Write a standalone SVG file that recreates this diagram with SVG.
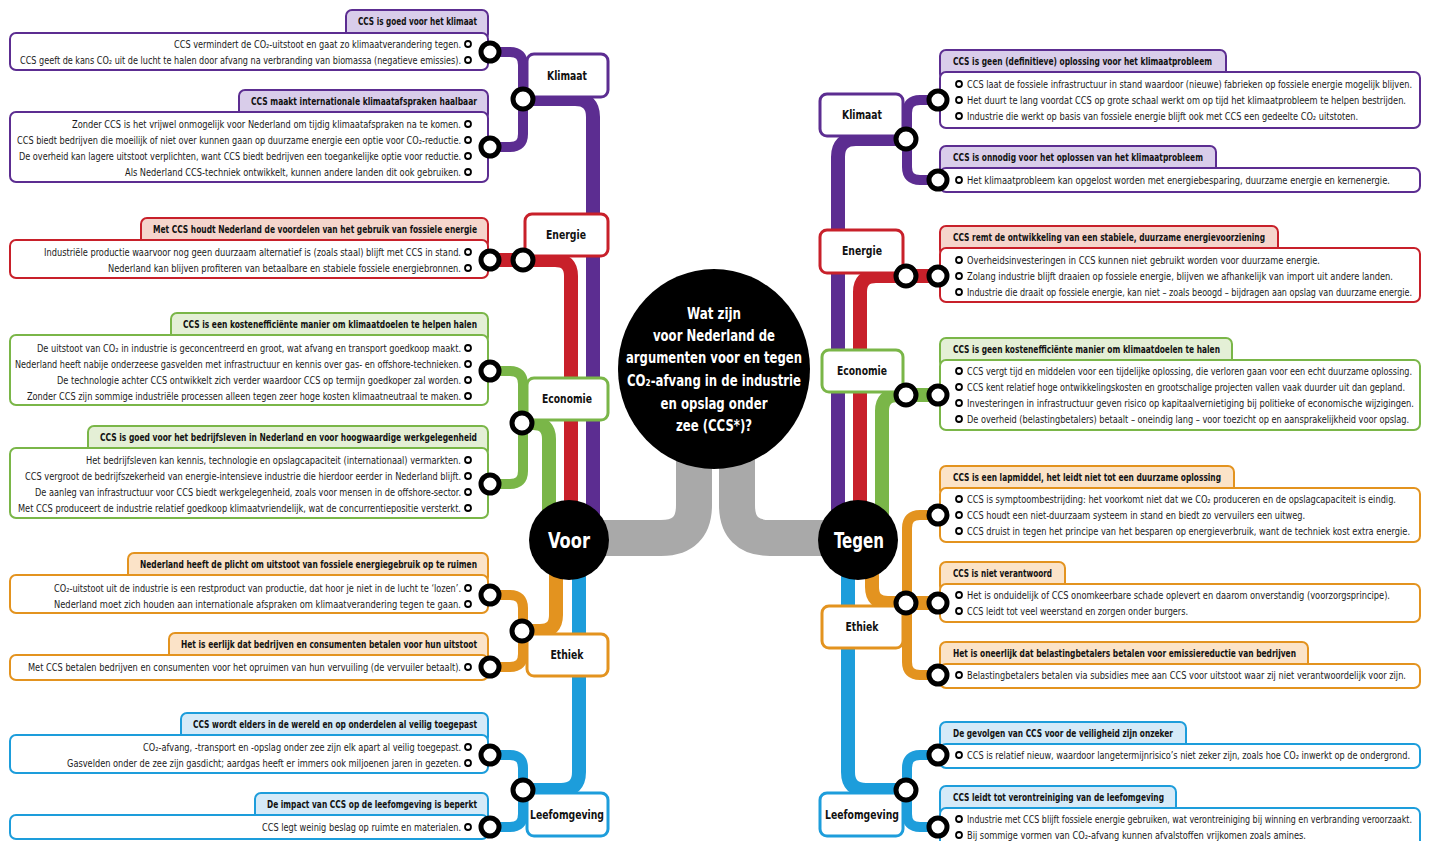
<svg xmlns="http://www.w3.org/2000/svg" width="1429" height="841" viewBox="0 0 1429 841">
<style>
.t{font-family:"Liberation Sans Narrow","DejaVu Sans Condensed","Liberation Sans",sans-serif;font-size:10px;fill:#1a1a1a}
.h{font-weight:bold;fill:#111}
.e{text-anchor:end}
.n{font-family:"Liberation Sans Narrow","DejaVu Sans Condensed","Liberation Sans",sans-serif;font-weight:bold;font-size:13px;fill:#111;text-anchor:middle}
.big{font-family:"Liberation Sans Narrow","DejaVu Sans Condensed","Liberation Sans",sans-serif;font-weight:bold;fill:#fff;text-anchor:middle}
.J{fill:#fff;stroke:#000;stroke-width:5}
.o{fill:#fff;stroke:#000;stroke-width:1.8}
.tr{fill:none;stroke-width:14;stroke-linecap:butt}
.br{fill:none;stroke-width:10}
.sm{fill:none;stroke-width:3}
.body{fill:#fff;stroke-width:2}
.tab{stroke-width:2}
.node{fill:#fff;stroke-width:3}
.pu{stroke:#5c2d91}.puf{fill:#d9cdea}
.re{stroke:#c8202a}.ref{fill:#f5d5cc}
.gr{stroke:#7ab648}.grf{fill:#e4efd6}
.or{stroke:#e3931f}.orf{fill:#fbe3c8}
.bl{stroke:#1d9ddb}.blf{fill:#d5eaf8}
</style>

<g id="connectors">
  <path d="M694 440 L694 505 Q694 538 661 538 L600 538" fill="none" stroke="#a9a9a9" stroke-width="36"/>
  <path d="M737 440 L737 505 Q737 538 770 538 L830 538" fill="none" stroke="#a9a9a9" stroke-width="36"/>
  <path class="tr pu" d="M523 99 L575 99 Q593 99 593 117 L593 520"/>
  <path class="tr re" d="M490 260 L555 260 Q571 260 571 276 L571 520"/>
  <path class="tr gr" d="M522 423 L533 423 Q549 423 549 439 L549 520"/>
  <path class="tr or" d="M556 560 L556 615 Q556 631 540 631 L522 631"/>
  <path class="tr bl" d="M579 560 L579 772 Q579 790 561 790 L523 790"/>
  <path class="tr pu" d="M906 139 L856 139 Q838 139 838 157 L838 520"/>
  <path class="tr re" d="M938 276 L876 276 Q860 276 860 292 L860 520"/>
  <path class="tr gr" d="M938 395 L898 395 Q882 395 882 411 L882 520"/>
  <path class="tr or" d="M872 560 L872 587 Q872 603 888 603 L938 603"/>
  <path class="tr bl" d="M848 560 L848 772 Q848 790 866 790 L906 790"/>
  <path class="br pu" d="M490 52 L510 52 Q523 52 523 65 L523 134 Q523 147 510 147 L490 147"/>
  <path class="br gr" d="M490 371 L510 371 Q523 371 523 384 L523 471 Q523 484 510 484 L490 484"/>
  <path class="br or" d="M490 595 L510 595 Q523 595 523 608 L523 654 Q523 667 510 667 L490 667"/>
  <path class="br bl" d="M490 755 L510 755 Q523 755 523 768 L523 814 Q523 827 510 827 L490 827"/>
  <path class="br pu" d="M938 100 L920 100 Q907 100 907 113 L907 167 Q907 180 920 180 L938 180"/>
  <path class="br or" d="M938 515 L920 515 Q907 515 907 528 L907 662 Q907 675 920 675 L938 675"/>
  <path class="br bl" d="M938 755 L920 755 Q907 755 907 768 L907 814 Q907 827 920 827 L938 827"/>
  <path class="sm pu" d="M471 44 H481 V60 H471 M481 52 H490"/>
  <path class="sm pu" d="M471 124 H481 V172 H471 M471 140 H481 M471 156 H481 M481 147 H490"/>
  <path class="sm re" d="M471 252 H481 V268 H471 M481 260 H490"/>
  <path class="sm gr" d="M471 348 H481 V396 H471 M471 364 H481 M471 380 H481 M481 371 H490"/>
  <path class="sm gr" d="M471 460 H481 V508 H471 M471 476 H481 M471 492 H481 M481 484 H490"/>
  <path class="sm or" d="M471 588 H481 V604 H471 M481 595 H490"/>
  <path class="sm or" d="M471 667 H490"/>
  <path class="sm bl" d="M471 747 H481 V763 H471 M481 755 H490"/>
  <path class="sm bl" d="M471 827 H490"/>
  <path class="sm pu" d="M956 84 H947 V116 H956 M956 100 H938"/>
  <path class="sm pu" d="M956 180 H938"/>
  <path class="sm re" d="M956 260 H947 V292 H956 M956 276 H938"/>
  <path class="sm gr" d="M956 371 H947 V419 H956 M956 387 H947 M956 403 H947 M947 395 H938"/>
  <path class="sm or" d="M956 499 H947 V531 H956 M956 515 H938"/>
  <path class="sm or" d="M956 595 H947 V611 H956 M947 603 H938"/>
  <path class="sm or" d="M956 675 H938"/>
  <path class="sm bl" d="M956 755 H938"/>
  <path class="sm bl" d="M956 819 H947 V835 H956 M947 827 H938"/>
</g>

<g id="center">
  <ellipse cx="714" cy="369" rx="96" ry="100" fill="#000"/>
  <text class="big" font-size="16" x="714" y="319" textLength="54" lengthAdjust="spacingAndGlyphs">Wat zijn</text>
  <text class="big" font-size="16" x="714" y="341" textLength="122" lengthAdjust="spacingAndGlyphs">voor Nederland de</text>
  <text class="big" font-size="16" x="714" y="363" textLength="176" lengthAdjust="spacingAndGlyphs">argumenten voor en tegen</text>
  <text class="big" font-size="16" x="714" y="386" textLength="174" lengthAdjust="spacingAndGlyphs">CO₂-afvang in de industrie</text>
  <text class="big" font-size="16" x="714" y="409" textLength="107" lengthAdjust="spacingAndGlyphs">en opslag onder</text>
  <text class="big" font-size="16" x="714" y="431" textLength="76" lengthAdjust="spacingAndGlyphs">zee (CCS*)?</text>
</g>
<g id="voor">
  <circle cx="569" cy="540" r="40" fill="#000"/>
  <text class="big" font-size="22" x="569" y="548" textLength="42" lengthAdjust="spacingAndGlyphs">Voor</text>
</g>
<g id="tegen">
  <circle cx="858" cy="540" r="40" fill="#000"/>
  <text class="big" font-size="22" x="859" y="548" textLength="50" lengthAdjust="spacingAndGlyphs">Tegen</text>
</g>

<g id="l-klimaat"><rect class="node pu" x="527" y="54" width="81" height="43" rx="7"/><text class="n" x="567" y="80" textLength="40" lengthAdjust="spacingAndGlyphs">Klimaat</text></g>
<g id="l-energie"><rect class="node re" x="525" y="214" width="83" height="42" rx="7"/><text class="n" x="566" y="239" textLength="40" lengthAdjust="spacingAndGlyphs">Energie</text></g>
<g id="l-economie"><rect class="node gr" x="527" y="378" width="81" height="42" rx="7"/><text class="n" x="567" y="403" textLength="50" lengthAdjust="spacingAndGlyphs">Economie</text></g>
<g id="l-ethiek"><rect class="node or" x="527" y="634" width="81" height="42" rx="7"/><text class="n" x="567" y="659" textLength="33" lengthAdjust="spacingAndGlyphs">Ethiek</text></g>
<g id="l-leefomgeving"><rect class="node bl" x="527" y="793" width="81" height="43" rx="7"/><text class="n" x="567" y="819" textLength="74" lengthAdjust="spacingAndGlyphs">Leefomgeving</text></g>

<g id="r-klimaat"><rect class="node pu" x="820" y="94" width="83" height="42" rx="7"/><text class="n" x="862" y="119" textLength="40" lengthAdjust="spacingAndGlyphs">Klimaat</text></g>
<g id="r-energie"><rect class="node re" x="820" y="230" width="83" height="43" rx="7"/><text class="n" x="862" y="255" textLength="40" lengthAdjust="spacingAndGlyphs">Energie</text></g>
<g id="r-economie"><rect class="node gr" x="822" y="350" width="81" height="42" rx="7"/><text class="n" x="862" y="375" textLength="50" lengthAdjust="spacingAndGlyphs">Economie</text></g>
<g id="r-ethiek"><rect class="node or" x="822" y="606" width="81" height="42" rx="7"/><text class="n" x="862" y="631" textLength="33" lengthAdjust="spacingAndGlyphs">Ethiek</text></g>
<g id="r-leefomgeving"><rect class="node bl" x="820" y="793" width="83" height="43" rx="7"/><text class="n" x="862" y="819" textLength="74" lengthAdjust="spacingAndGlyphs">Leefomgeving</text></g>

<g id="l-box1">
  <rect class="tab pu puf" x="346" y="10" width="142" height="30" rx="6"/>
  <rect class="body pu" x="10" y="33" width="478" height="37" rx="6"/>
  <text class="t h e" x="477" y="25" textLength="119" lengthAdjust="spacingAndGlyphs">CCS is goed voor het klimaat</text>
  <text class="t e" x="461" y="48" textLength="287" lengthAdjust="spacingAndGlyphs">CCS vermindert de CO₂-uitstoot en gaat zo klimaatverandering tegen.</text>
  <text class="t e" x="461" y="64" textLength="441" lengthAdjust="spacingAndGlyphs">CCS geeft de kans CO₂ uit de lucht te halen door afvang na verbranding van biomassa (negatieve emissies).</text>
  <circle class="o" cx="468" cy="44" r="3"/><circle class="o" cx="468" cy="60" r="3"/>
</g>
<g id="l-box2">
  <rect class="tab pu puf" x="239" y="90" width="249" height="30" rx="6"/>
  <rect class="body pu" x="10" y="112" width="478" height="70" rx="6"/>
  <text class="t h e" x="477" y="105" textLength="226" lengthAdjust="spacingAndGlyphs">CCS maakt internationale klimaatafspraken haalbaar</text>
  <text class="t e" x="461" y="128" textLength="389" lengthAdjust="spacingAndGlyphs">Zonder CCS is het vrijwel onmogelijk voor Nederland om tijdig klimaatafspraken na te komen.</text>
  <text class="t e" x="461" y="144" textLength="444" lengthAdjust="spacingAndGlyphs">CCS biedt bedrijven die moeilijk of niet over kunnen gaan op duurzame energie een optie voor CO₂-reductie.</text>
  <text class="t e" x="461" y="160" textLength="442" lengthAdjust="spacingAndGlyphs">De overheid kan lagere uitstoot verplichten, want CCS biedt bedrijven een toegankelijke optie voor reductie.</text>
  <text class="t e" x="461" y="176" textLength="336" lengthAdjust="spacingAndGlyphs">Als Nederland CCS-techniek ontwikkelt, kunnen andere landen dit ook gebruiken.</text>
  <circle class="o" cx="468" cy="124" r="3"/><circle class="o" cx="468" cy="140" r="3"/><circle class="o" cx="468" cy="156" r="3"/><circle class="o" cx="468" cy="172" r="3"/>
</g>
<g id="l-box3">
  <rect class="tab re ref" x="141" y="218" width="347" height="30" rx="6"/>
  <rect class="body re" x="10" y="240" width="478" height="38" rx="6"/>
  <text class="t h e" x="477" y="233" textLength="324" lengthAdjust="spacingAndGlyphs">Met CCS houdt Nederland de voordelen van het gebruik van fossiele energie</text>
  <text class="t e" x="461" y="256" textLength="417" lengthAdjust="spacingAndGlyphs">Industriële productie waarvoor nog geen duurzaam alternatief is (zoals staal) blijft met CCS in stand.</text>
  <text class="t e" x="461" y="272" textLength="353" lengthAdjust="spacingAndGlyphs">Nederland kan blijven profiteren van betaalbare en stabiele fossiele energiebronnen.</text>
  <circle class="o" cx="468" cy="252" r="3"/><circle class="o" cx="468" cy="268" r="3"/>
</g>
<g id="l-box4">
  <rect class="tab gr grf" x="171" y="313" width="317" height="30" rx="6"/>
  <rect class="body gr" x="10" y="335" width="478" height="70" rx="6"/>
  <text class="t h e" x="477" y="328" textLength="294" lengthAdjust="spacingAndGlyphs">CCS is een kostenefficiënte manier om klimaatdoelen te helpen halen</text>
  <text class="t e" x="461" y="352" textLength="424" lengthAdjust="spacingAndGlyphs">De uitstoot van CO₂ in industrie is geconcentreerd en groot, wat afvang en transport goedkoop maakt.</text>
  <text class="t e" x="461" y="368" textLength="446" lengthAdjust="spacingAndGlyphs">Nederland heeft nabije onderzeese gasvelden met infrastructuur en kennis over gas- en offshore-technieken.</text>
  <text class="t e" x="461" y="384" textLength="404" lengthAdjust="spacingAndGlyphs">De technologie achter CCS ontwikkelt zich verder waardoor CCS op termijn goedkoper zal worden.</text>
  <text class="t e" x="461" y="400" textLength="434" lengthAdjust="spacingAndGlyphs">Zonder CCS zijn sommige industriële processen alleen tegen zeer hoge kosten klimaatneutraal te maken.</text>
  <circle class="o" cx="468" cy="348" r="3"/><circle class="o" cx="468" cy="364" r="3"/><circle class="o" cx="468" cy="380" r="3"/><circle class="o" cx="468" cy="396" r="3"/>
</g>
<g id="l-box5">
  <rect class="tab gr grf" x="88" y="426" width="400" height="30" rx="6"/>
  <rect class="body gr" x="10" y="448" width="478" height="70" rx="6"/>
  <text class="t h e" x="477" y="441" textLength="377" lengthAdjust="spacingAndGlyphs">CCS is goed voor het bedrijfsleven in Nederland en voor hoogwaardige werkgelegenheid</text>
  <text class="t e" x="461" y="464" textLength="375" lengthAdjust="spacingAndGlyphs">Het bedrijfsleven kan kennis, technologie en opslagcapaciteit (internationaal) vermarkten.</text>
  <text class="t e" x="461" y="480" textLength="436" lengthAdjust="spacingAndGlyphs">CCS vergroot de bedrijfszekerheid van energie-intensieve industrie die hierdoor eerder in Nederland blijft.</text>
  <text class="t e" x="461" y="496" textLength="426" lengthAdjust="spacingAndGlyphs">De aanleg van infrastructuur voor CCS biedt werkgelegenheid, zoals voor mensen in de offshore-sector.</text>
  <text class="t e" x="461" y="512" textLength="443" lengthAdjust="spacingAndGlyphs">Met CCS produceert de industrie relatief goedkoop klimaatvriendelijk, wat de concurrentiepositie versterkt.</text>
  <circle class="o" cx="468" cy="460" r="3"/><circle class="o" cx="468" cy="476" r="3"/><circle class="o" cx="468" cy="492" r="3"/><circle class="o" cx="468" cy="508" r="3"/>
</g>
<g id="l-box6">
  <rect class="tab or orf" x="128" y="553" width="360" height="30" rx="6"/>
  <rect class="body or" x="10" y="575" width="478" height="38" rx="6"/>
  <text class="t h e" x="477" y="568" textLength="337" lengthAdjust="spacingAndGlyphs">Nederland heeft de plicht om uitstoot van fossiele energiegebruik op te ruimen</text>
  <text class="t e" x="461" y="592" textLength="407" lengthAdjust="spacingAndGlyphs">CO₂-uitstoot uit de industrie is een restproduct van productie, dat hoor je niet in de lucht te ‘lozen’.</text>
  <text class="t e" x="461" y="608" textLength="407" lengthAdjust="spacingAndGlyphs">Nederland moet zich houden aan internationale afspraken om klimaatverandering tegen te gaan.</text>
  <circle class="o" cx="468" cy="588" r="3"/><circle class="o" cx="468" cy="604" r="3"/>
</g>
<g id="l-box7">
  <rect class="tab or orf" x="169" y="633" width="319" height="30" rx="6"/>
  <rect class="body or" x="10" y="655" width="478" height="25" rx="6"/>
  <text class="t h e" x="477" y="648" textLength="296" lengthAdjust="spacingAndGlyphs">Het is eerlijk dat bedrijven en consumenten betalen voor hun uitstoot</text>
  <text class="t e" x="461" y="671" textLength="433" lengthAdjust="spacingAndGlyphs">Met CCS betalen bedrijven en consumenten voor het opruimen van hun vervuiling (de vervuiler betaalt).</text>
  <circle class="o" cx="468" cy="667" r="3"/>
</g>
<g id="l-box8">
  <rect class="tab bl blf" x="181" y="713" width="307" height="30" rx="6"/>
  <rect class="body bl" x="10" y="735" width="478" height="38" rx="6"/>
  <text class="t h e" x="477" y="728" textLength="284" lengthAdjust="spacingAndGlyphs">CCS wordt elders in de wereld en op onderdelen al veilig toegepast</text>
  <text class="t e" x="461" y="751" textLength="318" lengthAdjust="spacingAndGlyphs">CO₂-afvang, -transport en -opslag onder zee zijn elk apart al veilig toegepast.</text>
  <text class="t e" x="461" y="767" textLength="394" lengthAdjust="spacingAndGlyphs">Gasvelden onder de zee zijn gasdicht; aardgas heeft er immers ook miljoenen jaren in gezeten.</text>
  <circle class="o" cx="468" cy="747" r="3"/><circle class="o" cx="468" cy="763" r="3"/>
</g>
<g id="l-box9">
  <rect class="tab bl blf" x="255" y="793" width="233" height="30" rx="6"/>
  <rect class="body bl" x="10" y="815" width="478" height="24" rx="6"/>
  <text class="t h e" x="477" y="808" textLength="210" lengthAdjust="spacingAndGlyphs">De impact van CCS op de leefomgeving is beperkt</text>
  <text class="t e" x="461" y="831" textLength="199" lengthAdjust="spacingAndGlyphs">CCS legt weinig beslag op ruimte en materialen.</text>
  <circle class="o" cx="468" cy="827" r="3"/>
</g>

<g id="r-box1">
  <rect class="tab pu puf" x="940" y="50" width="286" height="30" rx="6"/>
  <rect class="body pu" x="940" y="72" width="480" height="56" rx="6"/>
  <text class="t h" x="953" y="65" textLength="259" lengthAdjust="spacingAndGlyphs">CCS is geen (definitieve) oplossing voor het klimaatprobleem</text>
  <text class="t" x="967" y="88" textLength="445" lengthAdjust="spacingAndGlyphs">CCS laat de fossiele infrastructuur in stand waardoor (nieuwe) fabrieken op fossiele energie mogelijk blijven.</text>
  <text class="t" x="967" y="104" textLength="439" lengthAdjust="spacingAndGlyphs">Het duurt te lang voordat CCS op grote schaal werkt om op tijd het klimaatprobleem te helpen bestrijden.</text>
  <text class="t" x="967" y="120" textLength="391" lengthAdjust="spacingAndGlyphs">Industrie die werkt op basis van fossiele energie blijft ook met CCS een gedeelte CO₂ uitstoten.</text>
  <circle class="o" cx="959" cy="84" r="3"/><circle class="o" cx="959" cy="100" r="3"/><circle class="o" cx="959" cy="116" r="3"/>
</g>
<g id="r-box2">
  <rect class="tab pu puf" x="940" y="146" width="276" height="30" rx="6"/>
  <rect class="body pu" x="940" y="168" width="480" height="24" rx="6"/>
  <text class="t h" x="953" y="161" textLength="250" lengthAdjust="spacingAndGlyphs">CCS is onnodig voor het oplossen van het klimaatprobleem</text>
  <text class="t" x="967" y="184" textLength="423" lengthAdjust="spacingAndGlyphs">Het klimaatprobleem kan opgelost worden met energiebesparing, duurzame energie en kernenergie.</text>
  <circle class="o" cx="959" cy="180" r="3"/>
</g>
<g id="r-box3">
  <rect class="tab re ref" x="940" y="226" width="338" height="30" rx="6"/>
  <rect class="body re" x="940" y="248" width="480" height="54" rx="6"/>
  <text class="t h" x="953" y="241" textLength="312" lengthAdjust="spacingAndGlyphs">CCS remt de ontwikkeling van een stabiele, duurzame energievoorziening</text>
  <text class="t" x="967" y="264" textLength="353" lengthAdjust="spacingAndGlyphs">Overheidsinvesteringen in CCS kunnen niet gebruikt worden voor duurzame energie.</text>
  <text class="t" x="967" y="280" textLength="426" lengthAdjust="spacingAndGlyphs">Zolang industrie blijft draaien op fossiele energie, blijven we afhankelijk van import uit andere landen.</text>
  <text class="t" x="967" y="296" textLength="445" lengthAdjust="spacingAndGlyphs">Industrie die draait op fossiele energie, kan niet – zoals beoogd – bijdragen aan opslag van duurzame energie.</text>
  <circle class="o" cx="959" cy="260" r="3"/><circle class="o" cx="959" cy="276" r="3"/><circle class="o" cx="959" cy="292" r="3"/>
</g>
<g id="r-box4">
  <rect class="tab gr grf" x="940" y="338" width="292" height="30" rx="6"/>
  <rect class="body gr" x="940" y="360" width="480" height="70" rx="6"/>
  <text class="t h" x="953" y="353" textLength="267" lengthAdjust="spacingAndGlyphs">CCS is geen kostenefficiënte manier om klimaatdoelen te halen</text>
  <text class="t" x="967" y="375" textLength="445" lengthAdjust="spacingAndGlyphs">CCS vergt tijd en middelen voor een tijdelijke oplossing, die verloren gaan voor een echt duurzame oplossing.</text>
  <text class="t" x="967" y="391" textLength="438" lengthAdjust="spacingAndGlyphs">CCS kent relatief hoge ontwikkelingskosten en grootschalige projecten vallen vaak duurder uit dan gepland.</text>
  <text class="t" x="967" y="407" textLength="447" lengthAdjust="spacingAndGlyphs">Investeringen in infrastructuur geven risico op kapitaalvernietiging bij politieke of economische wijzigingen.</text>
  <text class="t" x="967" y="423" textLength="442" lengthAdjust="spacingAndGlyphs">De overheid (belastingbetalers) betaalt – oneindig lang – voor toezicht op en aansprakelijkheid voor opslag.</text>
  <circle class="o" cx="959" cy="371" r="3"/><circle class="o" cx="959" cy="387" r="3"/><circle class="o" cx="959" cy="403" r="3"/><circle class="o" cx="959" cy="419" r="3"/>
</g>
<g id="r-box5">
  <rect class="tab or orf" x="940" y="466" width="294" height="30" rx="6"/>
  <rect class="body or" x="940" y="488" width="480" height="54" rx="6"/>
  <text class="t h" x="953" y="481" textLength="268" lengthAdjust="spacingAndGlyphs">CCS is een lapmiddel, het leidt niet tot een duurzame oplossing</text>
  <text class="t" x="967" y="503" textLength="429" lengthAdjust="spacingAndGlyphs">CCS is symptoombestrijding: het voorkomt niet dat we CO₂ produceren en de opslagcapaciteit is eindig.</text>
  <text class="t" x="967" y="519" textLength="338" lengthAdjust="spacingAndGlyphs">CCS houdt een niet-duurzaam systeem in stand en biedt zo vervuilers een uitweg.</text>
  <text class="t" x="967" y="535" textLength="443" lengthAdjust="spacingAndGlyphs">CCS druist in tegen het principe van het besparen op energieverbruik, want de techniek kost extra energie.</text>
  <circle class="o" cx="959" cy="499" r="3"/><circle class="o" cx="959" cy="515" r="3"/><circle class="o" cx="959" cy="531" r="3"/>
</g>
<g id="r-box6">
  <rect class="tab or orf" x="940" y="562" width="125" height="30" rx="6"/>
  <rect class="body or" x="940" y="584" width="480" height="38" rx="6"/>
  <text class="t h" x="953" y="577" textLength="99" lengthAdjust="spacingAndGlyphs">CCS is niet verantwoord</text>
  <text class="t" x="967" y="599" textLength="423" lengthAdjust="spacingAndGlyphs">Het is onduidelijk of CCS onomkeerbare schade oplevert en daarom onverstandig (voorzorgsprincipe).</text>
  <text class="t" x="967" y="615" textLength="221" lengthAdjust="spacingAndGlyphs">CCS leidt tot veel weerstand en zorgen onder burgers.</text>
  <circle class="o" cx="959" cy="595" r="3"/><circle class="o" cx="959" cy="611" r="3"/>
</g>
<g id="r-box7">
  <rect class="tab or orf" x="940" y="642" width="368" height="30" rx="6"/>
  <rect class="body or" x="940" y="664" width="480" height="24" rx="6"/>
  <text class="t h" x="953" y="657" textLength="343" lengthAdjust="spacingAndGlyphs">Het is oneerlijk dat belastingbetalers betalen voor emissiereductie van bedrijven</text>
  <text class="t" x="967" y="679" textLength="439" lengthAdjust="spacingAndGlyphs">Belastingbetalers betalen via subsidies mee aan CCS voor uitstoot waar zij niet verantwoordelijk voor zijn.</text>
  <circle class="o" cx="959" cy="675" r="3"/>
</g>
<g id="r-box8">
  <rect class="tab bl blf" x="940" y="722" width="246" height="30" rx="6"/>
  <rect class="body bl" x="940" y="744" width="480" height="24" rx="6"/>
  <text class="t h" x="953" y="737" textLength="220" lengthAdjust="spacingAndGlyphs">De gevolgen van CCS voor de veiligheid zijn onzeker</text>
  <text class="t" x="967" y="759" textLength="443" lengthAdjust="spacingAndGlyphs">CCS is relatief nieuw, waardoor langetermijnrisico’s niet zeker zijn, zoals hoe CO₂ inwerkt op de ondergrond.</text>
  <circle class="o" cx="959" cy="755" r="3"/>
</g>
<g id="r-box9">
  <rect class="tab bl blf" x="940" y="786" width="236" height="30" rx="6"/>
  <rect class="body bl" x="940" y="808" width="480" height="44" rx="6"/>
  <text class="t h" x="953" y="801" textLength="211" lengthAdjust="spacingAndGlyphs">CCS leidt tot verontreiniging van de leefomgeving</text>
  <text class="t" x="967" y="823" textLength="445" lengthAdjust="spacingAndGlyphs">Industrie met CCS blijft fossiele energie gebruiken, wat verontreiniging bij winning en verbranding veroorzaakt.</text>
  <text class="t" x="967" y="839" textLength="339" lengthAdjust="spacingAndGlyphs">Bij sommige vormen van CO₂-afvang kunnen afvalstoffen vrijkomen zoals amines.</text>
  <circle class="o" cx="959" cy="819" r="3"/><circle class="o" cx="959" cy="835" r="3"/>
</g>

<g id="junctions">
  <circle class="J" cx="490" cy="52" r="9"/>
  <circle class="J" cx="523" cy="99" r="10"/>
  <circle class="J" cx="490" cy="147" r="9"/>
  <circle class="J" cx="490" cy="260" r="9"/>
  <circle class="J" cx="523" cy="260" r="10"/>
  <circle class="J" cx="490" cy="371" r="9"/>
  <circle class="J" cx="522" cy="423" r="10"/>
  <circle class="J" cx="490" cy="484" r="9"/>
  <circle class="J" cx="490" cy="595" r="9"/>
  <circle class="J" cx="522" cy="631" r="10"/>
  <circle class="J" cx="490" cy="667" r="9"/>
  <circle class="J" cx="490" cy="755" r="9"/>
  <circle class="J" cx="523" cy="790" r="10"/>
  <circle class="J" cx="490" cy="827" r="9"/>
  <circle class="J" cx="938" cy="100" r="9"/>
  <circle class="J" cx="906" cy="139" r="10"/>
  <circle class="J" cx="938" cy="180" r="9"/>
  <circle class="J" cx="906" cy="276" r="10"/>
  <circle class="J" cx="938" cy="276" r="9"/>
  <circle class="J" cx="906" cy="395" r="10"/>
  <circle class="J" cx="938" cy="395" r="9"/>
  <circle class="J" cx="938" cy="515" r="9"/>
  <circle class="J" cx="906" cy="603" r="10"/>
  <circle class="J" cx="938" cy="603" r="9"/>
  <circle class="J" cx="938" cy="675" r="9"/>
  <circle class="J" cx="938" cy="755" r="9"/>
  <circle class="J" cx="906" cy="790" r="10"/>
  <circle class="J" cx="938" cy="827" r="9"/>
</g>
</svg>
